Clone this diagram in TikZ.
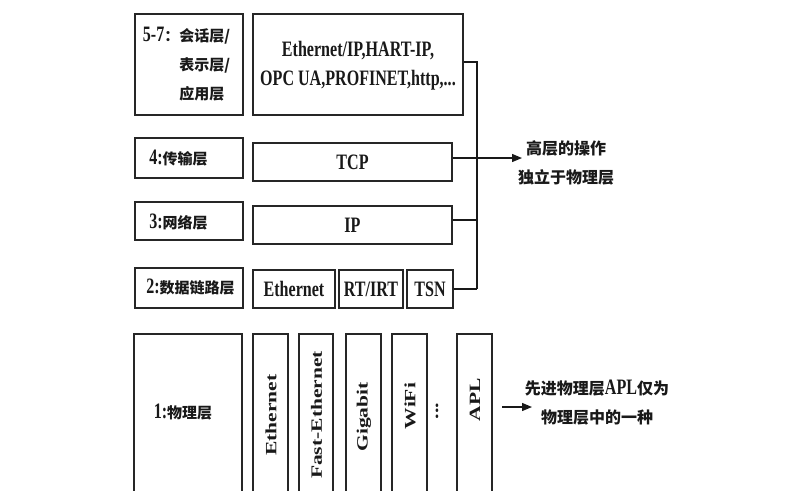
\documentclass[tikz,border=0pt]{standalone}
\usepackage{fontspec}
\usepackage{graphicx}
\usetikzlibrary{arrows.meta}
\setmainfont{Liberation Serif}
\newfontfamily\zhf{Noto Sans CJK SC}
\newcommand{\zh}[1]{{\zhf\bfseries\fontsize{15}{29}\selectfont #1}}
\newcommand{\zhb}[1]{{\zhf\bfseries\fontsize{16}{29}\selectfont #1}}
\newcommand{\sx}[1]{\scalebox{0.73}[1]{#1}}
\newcommand{\vt}[1]{\scalebox{1}[0.73]{#1}}
\begin{document}
\begin{tikzpicture}[x=1pt,y=-1pt,
  box/.style={draw=black!85, line width=1.6pt, inner sep=0pt, fill=white},
  lbl/.style={inner sep=0pt, text=black!90, font=\rmfamily\bfseries\fontsize{22}{29}\selectfont},
  vlbl/.style={inner sep=0pt, rotate=90, text=black!90, font=\rmfamily\bfseries\fontsize{21.5}{24}\selectfont},
  conn/.style={draw=black!90, line width=1.3pt},
  tip/.style={-{Triangle[length=10pt,width=8pt]}}]
\clip (0,0) rectangle (808,490);
\fill[white] (0,0) rectangle (808,490);

% ----- layer boxes
\node[box, minimum width=108pt, minimum height=101pt] (L57) at (189,64.5) {};
\node[box, minimum width=210pt, minimum height=101pt] (R57) at (358,64.5) {};
\node[box, minimum width=108pt, minimum height=40pt] (L4) at (189,158) {};
\node[box, minimum width=199pt, minimum height=38pt] (TCP) at (352.5,162) {};
\node[box, minimum width=108pt, minimum height=38pt] (L3) at (189,221) {};
\node[box, minimum width=199pt, minimum height=38pt] (IP) at (352.5,225) {};
\node[box, minimum width=108pt, minimum height=40pt] (L2) at (189,288) {};
\node[box, minimum width=82pt, minimum height=38pt] (ETH) at (294,289) {};
\node[box, minimum width=64pt, minimum height=38pt] (RT) at (371,289) {};
\node[box, minimum width=46pt, minimum height=38pt] (TSN) at (430,289) {};
\node[box, minimum width=108pt, minimum height=186pt] (L1) at (188,427) {};
\node[box, minimum width=35pt, minimum height=186pt] (P1) at (270.5,427) {};
\node[box, minimum width=34pt, minimum height=186pt] (P2) at (316,427) {};
\node[box, minimum width=35pt, minimum height=186pt] (P3) at (363.5,427) {};
\node[box, minimum width=35pt, minimum height=186pt] (P4) at (409.5,427) {};
\node[box, minimum width=35pt, minimum height=186pt] (P5) at (474.5,427) {};

% ----- texts
\node[lbl, align=left] (t57) at (186.5,64) {\sx{5-7}\zh{：会话层/}\\\hphantom{\sx{5-7}\zh{：}}\zh{表示层/}\\\hphantom{\sx{5-7}\zh{：}}\zh{应用层}};
\node[lbl, align=center] (tapp) at (358,66) {\sx{Ethernet/IP,HART-IP,}\\\sx{OPC UA,PROFINET,http,...}};
\node[lbl] (t4) at (178.5,158) {\sx{4:}\zh{传输层}};
\node[lbl] (ttcp) at (352.5,162) {\sx{TCP}};
\node[lbl] (t3) at (178.5,222) {\sx{3:}\zh{网络层}};
\node[lbl] (tip) at (352.5,225) {\sx{IP}};
\node[lbl] (t2) at (190.5,287) {\sx{2:}\zh{数据链路层}};
\node[lbl] (teth) at (294,289) {\sx{Ethernet}};
\node[lbl] (trt) at (371,289) {\sx{RT/IRT}};
\node[lbl] (ttsn) at (430,289) {\sx{TSN}};
\node[lbl] (t1) at (183,412) {\sx{1:}\zh{物理层}};
\node[vlbl] (v1) at (271,415) {\vt{Ethernet}};
\node[vlbl] (v2) at (316.5,415) {\vt{Fast-Ethernet}};
\node[vlbl] (v3) at (364,417) {\vt{Gigabit}};
\node[vlbl] (v4) at (410,406) {\vt{WiFi}};
\node[vlbl, font=\rmfamily\bfseries\fontsize{22}{24}\selectfont] (vd) at (437,411) {\vt{...}};
\node[vlbl] (v5) at (475,400) {\vt{APL}};

% ----- right-hand notes
\node[lbl, align=center] (hl) at (566,162.5) {\zhb{高层的操作}\\\zhb{独立于物理层}};
\node[lbl, align=center] (pl) at (597,403) {\zhb{先进物理层}\sx{APL}\zhb{仅为}\\\zhb{物理层中的一种}};

% ----- connectors
\coordinate (bb) at (477,289);
\coordinate (a1) at (522,158);
\coordinate (b0) at (502,407);
\coordinate (b1) at (532,407);
\draw[conn] ([yshift=2.5pt]R57.east) -| (bb);
\draw[conn] (TSN.east) -- (bb);
\draw[conn] ([yshift=5pt]IP.east) coordinate (ipe) -- (ipe -| bb);
\draw[conn, tip] ([yshift=4pt]TCP.east) coordinate (tcpe) -- (tcpe -| a1);
\draw[conn, tip] (b0) -- (b1);
\end{tikzpicture}
\end{document}
